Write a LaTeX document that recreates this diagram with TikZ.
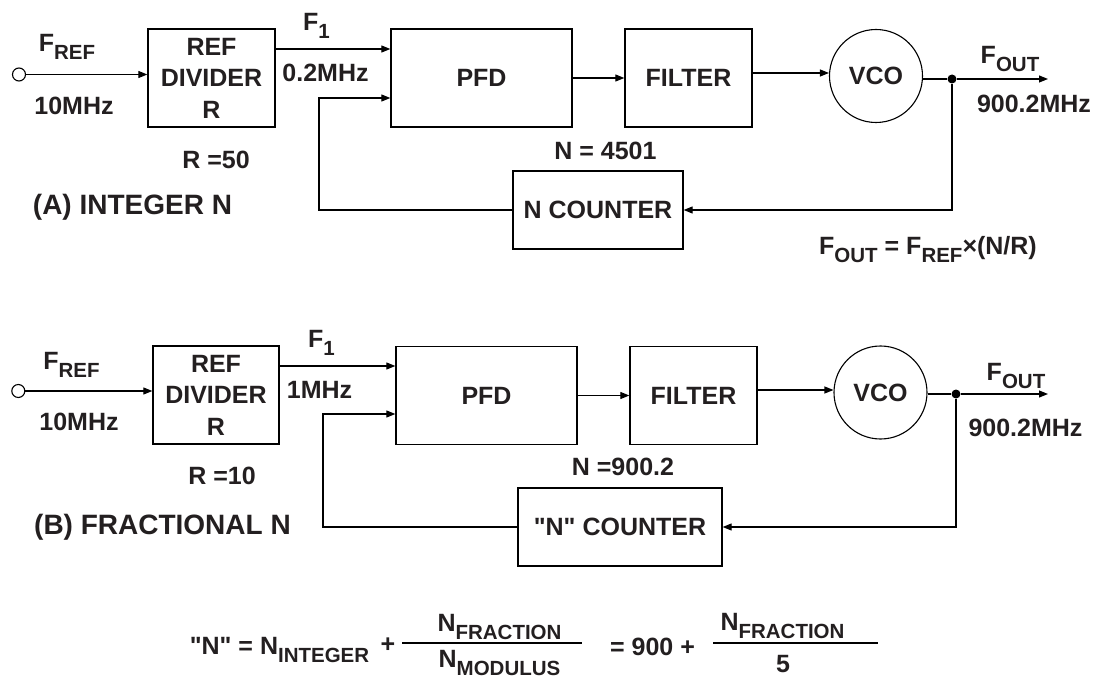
\documentclass[tikz,border=0pt]{standalone}
\usepackage{fontspec}
\setmainfont{Liberation Sans}
\usetikzlibrary{arrows.meta}
\definecolor{ink}{RGB}{35,31,32}
\newcommand{\SB}[1]{\raisebox{-8pt}{\fontsize{20.5}{21}\selectfont #1}}
\newcommand{\QN}{\textquotedbl N\textquotedbl}

\begin{document}
\begin{tikzpicture}[
  x=1pt,y=-1pt,
  >={Triangle[length=9pt,width=7pt]},
  line width=1.1pt,
  blk/.style={draw,line width=1.3pt,align=center,minimum height=98pt,inner sep=0pt,text=ink,font=\fontsize{25}{31.5}\selectfont\bfseries},
  vco/.style={draw,circle,line width=1.1pt,minimum size=93pt,inner sep=0pt,text=ink,font=\fontsize{25}{30}\selectfont\bfseries},
  port/.style={draw,circle,line width=1.1pt,minimum size=13pt,inner sep=0pt},
  jn/.style={fill,circle,minimum size=9pt,inner sep=0pt},
  lab/.style={inner sep=0pt,text=ink,font=\fontsize{25}{30}\selectfont\bfseries},
  ttl/.style={inner sep=0pt,text=ink,font=\fontsize{28}{33}\selectfont\bfseries}
]
\path[use as bounding box] (0,0) rectangle (1096,679);

\node[port] (inA) at (19,74.5) {};
\node[blk,minimum width=127pt] (divA) at (211.5,78) {REF\\DIVIDER\\R};
\node[blk,minimum width=181pt] (pfdA) at (481.5,78) {PFD};
\node[blk,minimum width=127pt] (filA) at (688.5,78) {FILTER};
\node[vco] (vcoA) at (876,76) {VCO};
\node[jn] (jA) at (952,79) {};
\coordinate (outA) at (1048,79);
\node[blk,minimum width=170pt,minimum height=78pt] (ncA) at (598,210) {N COUNTER};
\coordinate (fbA) at (319,210);
\coordinate (inA1) at ([yshift=29pt]pfdA.west);
\coordinate (inA2) at ([yshift=-20pt]pfdA.west);

\node[lab] (frefA) at (67,47) {F\SB{REF}};
\node[lab] (f10A) at (74,105.5) {10MHz};
\node[lab] (f1A) at (316.5,26) {F\SB{1}};
\node[lab] (f02A) at (325.5,73) {0.2MHz};
\node[lab] (rA) at (216,159.5) {R =50};
\node[lab] (nA) at (605.5,150.5) {N = 4501};
\node[lab] (foutA) at (1010,59.5) {F\SB{OUT}};
\node[lab] (f900A) at (1034,104) {900.2MHz};
\node[lab] (eqA) at (928,250) {F\SB{OUT} = F\SB{REF}×(N/R)};
\node[ttl] (ttlA) at (132.5,207) {(A) INTEGER N};

\draw[->] (inA) -- (inA -| divA.west);
\draw[->] (divA.east |- inA1) -- (inA1);
\draw[->] (pfdA) -- (filA);
\draw[->] ([yshift=5pt]filA.east) -- ([yshift=3pt]vcoA.west);
\draw ([yshift=-3pt]vcoA.east) -- (jA);
\draw[->] (jA) -- (outA);
\draw[->] (jA) |- (ncA);
\draw[->] (ncA.west) -- (fbA) |- (inA2);

\node[port] (inB) at (18.3,391) {};
\node[blk,minimum width=126pt] (divB) at (216,395) {REF\\DIVIDER\\R};
\node[blk,minimum width=181pt] (pfdB) at (486.5,395.5) {PFD};
\node[blk,minimum width=127pt] (filB) at (693.5,395.5) {FILTER};
\node[vco] (vcoB) at (880.5,392.5) {VCO};
\node[jn] (jB) at (956,394) {};
\coordinate (outB) at (1048,394);
\node[blk,minimum width=204pt,minimum height=78pt] (ncB) at (620,527) {\QN{} COUNTER};
\coordinate (fbB) at (323,527);
\coordinate (inB1) at ([yshift=29.5pt]pfdB.west);
\coordinate (inB2) at ([yshift=-18.5pt]pfdB.west);

\node[lab] (frefB) at (71.5,364.5) {F\SB{REF}};
\node[lab] (f10B) at (79,422) {10MHz};
\node[lab] (f1B) at (321.5,343) {F\SB{1}};
\node[lab] (f1mB) at (319.5,389.5) {1MHz};
\node[lab] (rB) at (222,475.5) {R =10};
\node[lab] (nB) at (623,466.5) {N =900.2};
\node[lab] (foutB) at (1016,376.5) {F\SB{OUT}};
\node[lab] (f900B) at (1025.5,428) {900.2MHz};
\node[ttl] (ttlB) at (162.5,527.5) {(B) FRACTIONAL N};

\draw[->] (inB) -- (inB -| divB.west);
\draw[->] (divB.east |- inB1) -- (inB1);
\draw[->] (pfdB) -- (filB);
\draw[->] ([yshift=5.5pt]filB.east) -- ([yshift=2.5pt]vcoB.west);
\draw ([yshift=-1.5pt]vcoB.east) -- (jB);
\draw[->] (jB) -- (outB);
\draw[->] (jB) |- (ncB);
\draw[->] (ncB.west) -- (fbB) |- (inB2);

\node[lab] (eqL) at (279.5,650) {\QN{} = N\SB{INTEGER}};
\node[lab] (plus) at (388,645) {+};
\node[lab] (num1) at (499.5,626.5) {N\SB{FRACTION}};
\node[lab] (den1) at (499.5,662.5) {N\SB{MODULUS}};
\node[lab] (eqR) at (652.5,646.5) {= 900 +};
\node[lab] (num2) at (782.5,626) {N\SB{FRACTION}};
\node[lab] (den2) at (783,664) {5};
\draw[line width=1.2pt] (402,643) -- (582,643);
\draw[line width=1.2pt] (713,643) -- (878,643);
\end{tikzpicture}
\end{document}
